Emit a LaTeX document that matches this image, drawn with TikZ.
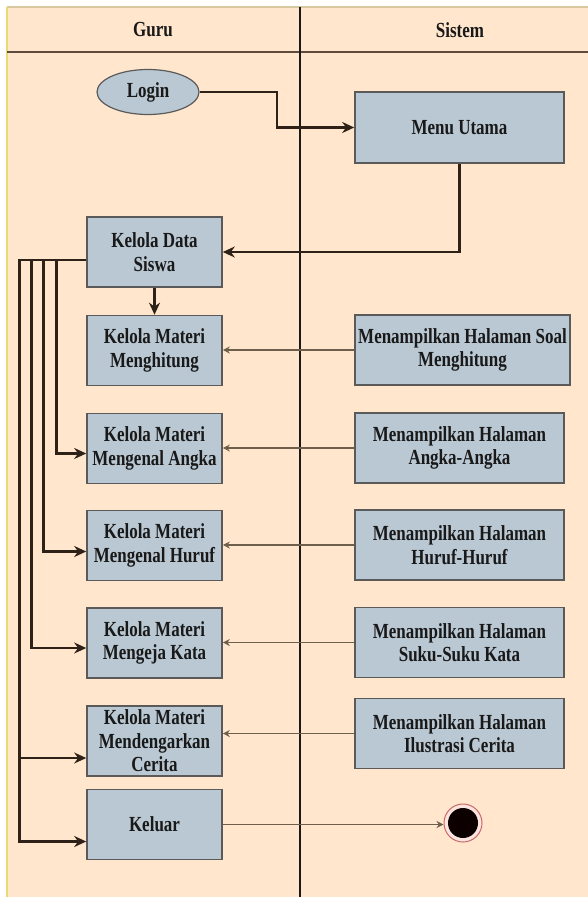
\documentclass[tikz,border=0pt]{standalone}
\usepackage{fontspec}
\setmainfont{Liberation Serif}[FakeStretch=0.79]
\usepackage{tikz}
\usetikzlibrary{arrows.meta, calc, shapes.geometric}
\definecolor{lanebg}{HTML}{FFE6CC}
\definecolor{boxfill}{HTML}{BAC8D3}
\definecolor{boxline}{HTML}{5A5A5A}
\definecolor{flowdark}{HTML}{2E2117}
\definecolor{flowthin}{HTML}{6E5E4C}
\definecolor{headline}{HTML}{5E4B3C}
\definecolor{frametop}{HTML}{D8C8A0}
\definecolor{frameleft}{HTML}{E8DA74}
\definecolor{endring}{HTML}{C96A66}
\definecolor{endfill}{HTML}{FCE4E0}
\tikzset{
  act/.style={rectangle,draw=boxline,fill=boxfill,line width=1.6pt,
    minimum width=135pt,minimum height=70pt,align=center,inner sep=1pt},
  actr/.style={act,minimum width=209pt},
  loginnode/.style={ellipse,draw=boxline,fill=boxfill,line width=1.2pt,
    minimum width=102pt,minimum height=45pt,inner sep=0pt},
  endouter/.style={circle,draw=endring,fill=endfill,line width=1pt,minimum size=38pt,inner sep=0pt},
  endinner/.style={circle,fill=black!95!red,minimum size=30pt,inner sep=0pt},
  flow/.style={-{Stealth[length=12pt,width=11pt]},line width=2.6pt,flowdark},
  feed/.style={-{Stealth[length=7pt,width=7pt]},line width=1.8pt,flowthin},
}

\begin{document}
\begin{tikzpicture}[x=1pt,y=-1pt,font=\bfseries\fontsize{21.5}{23.5}\selectfont,text=black!90]
  \useasboundingbox (0,0) rectangle (588,897);
  % swimlanes
  \fill[white] (0,0) rectangle (588,897);
  \fill[lanebg] (7,7) rectangle (588,897);
  \draw[frametop,line width=1.5pt] (7,7) -- (588,7);
  \draw[frameleft,line width=2pt] (7,7) -- (7,897);
  \draw[headline,line width=2.5pt] (7,52) -- (588,52);
  \draw[black!90,line width=2pt] (300,7) -- (300,897);
  \node (guru) at (153,30) {Guru};
  \node (sistem) at (460,30) {Sistem};

  % guru
  \node[loginnode] (login) at (148,92) {Login};
  \node[act] (siswa) at (154.5,252) {Kelola Data\\Siswa};
  \node[act] (hitung) at (154.5,350.5) {Kelola Materi\\Menghitung};
  \node[act] (angka) at (154.5,448.5) {Kelola Materi\\Mengenal Angka};
  \node[act] (huruf) at (154.5,545.5) {Kelola Materi\\Mengenal Huruf};
  \node[act] (eja) at (154.5,643) {Kelola Materi\\Mengeja Kata};
  \node[act] (cerita) at (154.5,741) {Kelola Materi\\Mendengarkan\\Cerita};
  \node[act] (keluar) at (154.5,824.5) {Keluar};

  % sistem
  \node[actr,minimum height=71pt] (menu) at (459.5,127.5) {Menu Utama};
  \node[actr,minimum width=215pt] (shitung) at (462.5,350) {Menampilkan Halaman Soal\\Menghitung};
  \node[actr] (sangka) at (459.5,448) {Menampilkan Halaman\\Angka-Angka};
  \node[actr] (shuruf) at (459.5,545) {Menampilkan Halaman\\Huruf-Huruf};
  \node[actr] (ssuku) at (459.5,642.5) {Menampilkan Halaman\\Suku-Suku Kata};
  \node[actr] (silus) at (459.5,733.5) {Menampilkan Halaman\\Ilustrasi Cerita};
  \node[endouter] (fin) at (463,823) {};
  \node[endinner] at (fin) {};

  % alur utama
  \draw[flow] (login.east) -| ($(login.east)!0.5!(menu.west)$) |- (menu.west);
  \draw[flow] (menu.south) |- (siswa.east);
  \draw[flow] (siswa.south) -- (hitung.north);
  \draw[flow] ([yshift=-8pt]siswa.west) -- ++(-30,0) |- ([yshift=-5pt]angka.west);
  \draw[flow] ([yshift=-8pt]siswa.west) -- ++(-43,0) |- ([yshift=-6pt]huruf.west);
  \draw[flow] ([yshift=-8pt]siswa.west) -- ++(-55,0) |- ([yshift=-5pt]eja.west);
  \draw[flow] ([yshift=-8pt]siswa.west) -- ++(-67,0) |- ([yshift=-17pt]cerita.west);
  \draw[flow] ([yshift=-8pt]siswa.west) -- ++(-67,0) |- ([yshift=-17pt]keluar.west);

  % tampilan sistem
  \draw[feed] (shitung.west) -- (shitung.west -| hitung.east);
  \draw[feed] (sangka.west) -- (sangka.west -| angka.east);
  \draw[feed] (shuruf.west) -- (shuruf.west -| huruf.east);
  \draw[feed] (ssuku.west) -- (ssuku.west -| eja.east);
  \draw[feed] (silus.west) -- (silus.west -| cerita.east);
  \draw[feed] (keluar.east) -- (keluar.east -| fin.west);
\end{tikzpicture}
\end{document}
